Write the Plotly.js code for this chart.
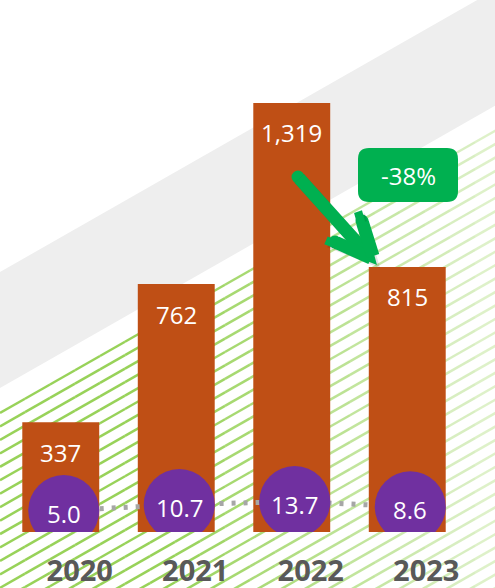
<!DOCTYPE html>
<html><head><meta charset="utf-8">
<script src="https://cdn.plot.ly/plotly-3.0.1.min.js"></script>
<style>html,body{margin:0;padding:0;background:#fff;} #chart{width:495px;height:588px;}</style>
</head><body><div id="chart"></div>
<script>
// ---- data ----
const years = ['2020', '2021', '2022', '2023'];
const barValues = [337, 762, 1319, 815];
const barLabels = ['337', '762', '1,319', '815'];
const circleValues = [5.0, 10.7, 13.7, 8.6];
const circleLabels = ['5.0', '10.7', '13.7', '8.6'];
const changeLabel = '-38%';

// ---- layout helpers (decoration only) ----
const W = 495, H = 588, ML = 3, MR = 30, MT = 0, MB = 56;
const PW = W - ML - MR, PH = H - MT - MB;
const px = x => (x - ML) / PW;
const py = y => (MT + PH - y) / PH;
const P = (x, y) => px(x).toFixed(5) + ',' + py(y).toFixed(5);

const shapes = [];
// gray diagonal band
const k = 0.57;
const band = [[0, 272], [520, 272 - k * 520], [520, 388 - k * 520], [0, 388]];
shapes.push({type: 'path', xref: 'paper', yref: 'paper', layer: 'below',
  path: 'M' + band.map(p => P(p[0], p[1])).join('L') + 'Z',
  fillcolor: '#eeeeee', line: {width: 0}});
// green stripes with horizontal fade
function alphaAt(x) { return x <= 170 ? 0.95 : Math.max(0.3, 0.95 - 0.65 * (x - 170) / 320); }
for (let c = 413; c <= 900; c += 13.45) {
  for (let x0 = 0; x0 < 500; x0 += 25) {
    const x1 = x0 + 25;
    const y0 = c - k * x0, y1 = c - k * x1;
    if (y1 > H + 5) continue;
    shapes.push({type: 'line', xref: 'paper', yref: 'paper', layer: 'below',
      x0: px(x0), y0: py(y0), x1: px(x1), y1: py(y1),
      line: {color: 'rgba(146,208,80,' + alphaAt((x0 + x1) / 2).toFixed(3) + ')', width: 2.5}});
  }
}
// rounded green box for the change label
function roundRect(x0, y0, x1, y1, r) {
  return 'M' + P(x0 + r, y0) + 'L' + P(x1 - r, y0) + 'Q' + P(x1, y0) + ' ' + P(x1, y0 + r) +
    'L' + P(x1, y1 - r) + 'Q' + P(x1, y1) + ' ' + P(x1 - r, y1) +
    'L' + P(x0 + r, y1) + 'Q' + P(x0, y1) + ' ' + P(x0, y1 - r) +
    'L' + P(x0, y0 + r) + 'Q' + P(x0, y0) + ' ' + P(x0 + r, y0) + 'Z';
}
shapes.push({type: 'path', xref: 'paper', yref: 'paper', layer: 'above',
  path: roundRect(358, 148, 458, 202, 11), fillcolor: '#00B050', line: {width: 0}});
// round caps of the arrow
function capCircle(cx, cy, r) {
  return {type: 'circle', xref: 'paper', yref: 'paper', layer: 'above',
    x0: px(cx - r), x1: px(cx + r), y0: py(cy + r), y1: py(cy - r),
    fillcolor: '#00B050', line: {width: 0}};
}
shapes.push(capCircle(298, 177, 6.5), capCircle(335, 242, 6.5), capCircle(362, 221, 6.5));

// ---- annotations ----
const annotations = [];
const FONT = '"Open Sans", "Noto Sans", sans-serif';
years.forEach((yr, i) => {
  annotations.push({x: i, y: barValues[i], xref: 'x', yref: 'y', text: barLabels[i],
    xanchor: 'center', yanchor: 'middle',
    showarrow: false, yshift: -30, font: {family: FONT, size: 24, color: '#ffffff'}});
  annotations.push({x: i, y: circleValues[i], xref: 'x2', yref: 'y2', text: circleLabels[i],
    xanchor: 'center', yanchor: 'middle',
    showarrow: false, yshift: -3, font: {family: FONT, size: 24, color: '#ffffff'}});
});
// arrow shadow
annotations.push({x: px(380), y: py(268), xref: 'paper', yref: 'paper', ax: -82, ay: -91,
  text: '', showarrow: true, arrowhead: 5, arrowsize: 0.65, arrowwidth: 13, standoff: 0,
  arrowcolor: 'rgba(0,0,0,0.10)'});
// arrow shaft + head
annotations.push({x: px(377), y: py(265), xref: 'paper', yref: 'paper', ax: -79, ay: -88,
  text: '', showarrow: true, arrowhead: 5, arrowsize: 0.65, arrowwidth: 13, standoff: 0,
  arrowcolor: '#00B050'});
// arrow wings (thicker)
annotations.push({x: px(371), y: py(258), xref: 'paper', yref: 'paper', ax: 335 - 371, ay: 242 - 258,
  text: '', showarrow: true, arrowhead: 0, arrowwidth: 13, standoff: 0, arrowcolor: '#00B050'});
annotations.push({x: px(373), y: py(256), xref: 'paper', yref: 'paper', ax: 362 - 373, ay: 221 - 256,
  text: '', showarrow: true, arrowhead: 0, arrowwidth: 13, standoff: 0, arrowcolor: '#00B050'});
// change label
annotations.push({x: px(408), y: py(175), xref: 'paper', yref: 'paper', text: changeLabel,
  xanchor: 'center', yanchor: 'middle',
  showarrow: false, font: {family: FONT, size: 24, color: '#ffffff'}});

// ---- traces ----
const traces = [
  {type: 'bar', x: years, y: barValues, marker: {color: '#BF4F15'}, hoverinfo: 'skip'},
  {type: 'scatter', mode: 'lines+markers', x: years, y: circleValues, xaxis: 'x2', yaxis: 'y2',
    line: {color: '#A6A6A6', width: 5, dash: '4px,8px'},
    marker: {size: 71, color: '#7030A0', line: {width: 0}}, hoverinfo: 'skip'}
];

const layout = {
  width: W, height: H,
  margin: {l: ML, r: MR, t: MT, b: MB, pad: 0},
  paper_bgcolor: '#ffffff', plot_bgcolor: 'rgba(0,0,0,0)',
  showlegend: false, bargap: 0.334,
  xaxis: {type: 'category', range: [-0.5, 3.5], showgrid: false, zeroline: false, showline: false,
    ticks: '', ticklabelshift: 19, ticklabelstandoff: 19,
    tickfont: {family: FONT, size: 29, color: '#595959', weight: 'bold'}},
  yaxis: {range: [0, PH / 0.3253], visible: false},
  xaxis2: {type: 'category', overlaying: 'x', range: [-0.526, 3.474], visible: false},
  yaxis2: {overlaying: 'y', range: [-(PH - 515.67) / 1.034, 515.67 / 1.034], visible: false},
  shapes: shapes, annotations: annotations
};
Plotly.newPlot('chart', traces, layout, {displayModeBar: false, staticPlot: true});
</script>
</body></html>
